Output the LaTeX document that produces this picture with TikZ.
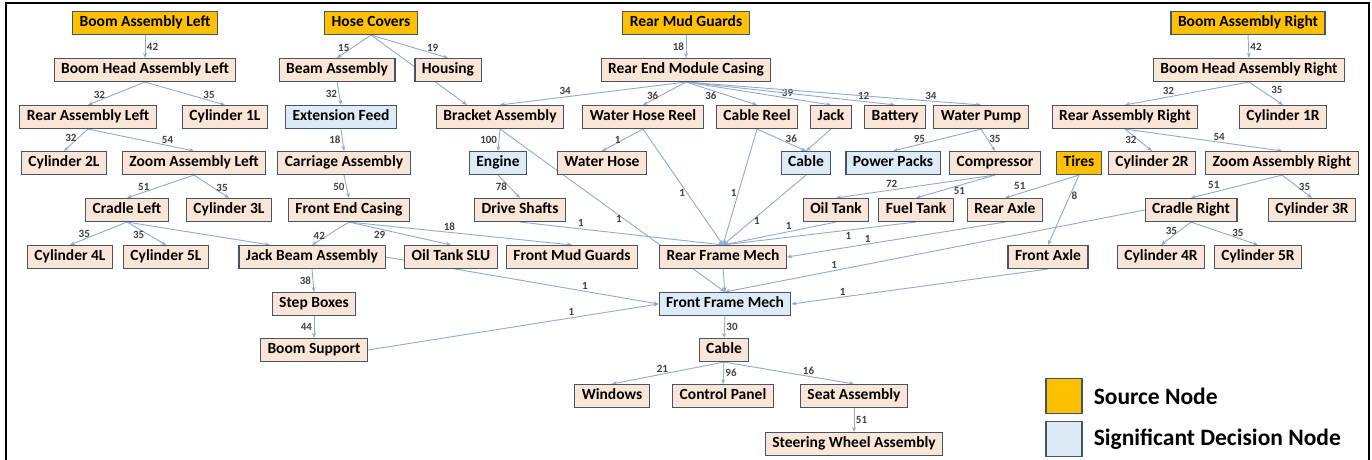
\documentclass[tikz,border=0pt]{standalone}
\usepackage{fontspec}
\setmainfont{Carlito}
\usepackage{tikz}
\usetikzlibrary{arrows.meta,backgrounds,positioning}

\definecolor{peach}{HTML}{FBE5D6}
\definecolor{gold}{HTML}{FFC000}
\definecolor{paleblue}{HTML}{DEEBF7}
\definecolor{rim}{HTML}{44546A}
\definecolor{edgeblue}{HTML}{8FAACC}

\tikzset{
  partbox/.style={draw=rim, fill=peach, line width=1.1pt, minimum height=23pt,
    inner xsep=7pt, inner ysep=0pt, text height=11pt, text depth=3.5pt,
    font=\fontsize{15.5}{17}\selectfont\bfseries},
  srcbox/.style={partbox, fill=gold},
  sigbox/.style={partbox, fill=paleblue},
  link/.style={draw=edgeblue, line width=0.9pt, -{Stealth[length=5pt,width=4pt]}},
  num/.style={font=\fontsize{11}{12}\selectfont\bfseries, text=black!75, inner sep=1.5pt},
  keytext/.style={font=\fontsize{23.5}{26}\selectfont\bfseries, inner sep=0pt}
}

\begin{document}
\begin{tikzpicture}[x=1pt, y=-1pt]

\useasboundingbox (0,0) rectangle (1372,460);
\draw[line width=2.2pt] (6,460) -- (6,3) -- (1369,3) -- (1369,460);

% row 0
\node[srcbox] (bal) at (145,23) {Boom Assembly Left};
\node[srcbox] (hc) at (371,23) {Hose Covers};
\node[srcbox] (rmg) at (686,23) {Rear Mud Guards};
\node[srcbox] (bar) at (1248,23) {Boom Assembly Right};

% row 1
\node[partbox] (bhal) at (145,70) {Boom Head Assembly Left};
\node[partbox] (beam) at (337,70) {Beam Assembly};
\node[partbox] (hous) at (448,70) {Housing};
\node[partbox] (remc) at (686,70) {Rear End Module Casing};
\node[partbox] (bhar) at (1249,70) {Boom Head Assembly Right};

% row 2
\node[partbox] (ral) at (88,117) {Rear Assembly Left};
\node[partbox] (cyl1l) at (225,117) {Cylinder 1L};
\node[sigbox] (ef) at (341,117) {Extension Feed};
\node[partbox] (brk) at (500,117) {Bracket Assembly};
\node[partbox] (whr) at (643,117) {Water Hose Reel};
\node[partbox] (creel) at (757,117) {Cable Reel};
\node[partbox] (jack) at (831,117) {Jack};
\node[partbox] (bat) at (895,117) {Battery};
\node[partbox] (wp) at (981,117) {Water Pump};
\node[partbox] (rar) at (1125,117) {Rear Assembly Right};
\node[partbox] (cyl1r) at (1283,117) {Cylinder 1R};

% row 3
\node[partbox] (cyl2l) at (64,163) {Cylinder 2L};
\node[partbox] (zal) at (194,163) {Zoom Assembly Left};
\node[partbox] (ca) at (344,163) {Carriage Assembly};
\node[sigbox] (eng) at (498,163) {Engine};
\node[partbox] (wh) at (602,163) {Water Hose};
\node[sigbox] (cab) at (806,163) {Cable};
\node[sigbox] (pp) at (893,163) {Power Packs};
\node[partbox] (comp) at (995,163) {Compressor};
\node[srcbox] (tires) at (1079,163) {Tires};
\node[partbox] (cyl2r) at (1152,163) {Cylinder 2R};
\node[partbox] (zar) at (1282,163) {Zoom Assembly Right};

% row 4
\node[partbox] (crl) at (127,210) {Cradle Left};
\node[partbox] (cyl3l) at (229,210) {Cylinder 3L};
\node[partbox] (fec) at (349,210) {Front End Casing};
\node[partbox] (ds) at (520,210) {Drive Shafts};
\node[partbox] (ot) at (836,210) {Oil Tank};
\node[partbox] (ft) at (916,210) {Fuel Tank};
\node[partbox] (ra) at (1005,210) {Rear Axle};
\node[partbox] (crr) at (1191,210) {Cradle Right};
\node[partbox] (cyl3r) at (1312,210) {Cylinder 3R};

% row 5
\node[partbox] (cyl4l) at (70,257) {Cylinder 4L};
\node[partbox] (cyl5l) at (166,257) {Cylinder 5L};
\node[partbox] (jba) at (312,257) {Jack Beam Assembly};
\node[partbox] (otslu) at (451,257) {Oil Tank SLU};
\node[partbox] (fmg) at (572,257) {Front Mud Guards};
\node[partbox] (rfm) at (723,257) {Rear Frame Mech};
\node[partbox] (fa) at (1048,257) {Front Axle};
\node[partbox] (cyl4r) at (1161,257) {Cylinder 4R};
\node[partbox] (cyl5r) at (1258,257) {Cylinder 5R};

% lower rows
\node[partbox] (sb) at (314,304) {Step Boxes};
\node[sigbox] (ffm) at (725,304) {Front Frame Mech};
\node[partbox] (bs) at (314,350) {Boom Support};
\node[partbox] (cbl) at (724,350) {Cable};
\node[partbox] (win) at (612,396) {Windows};
\node[partbox] (cp) at (723,396) {Control Panel};
\node[partbox] (seat) at (854,396) {Seat Assembly};
\node[partbox] (swa) at (854,444) {Steering Wheel Assembly};

% legend
\node[srcbox, minimum width=36pt, minimum height=35pt] (keysrc) at (1064,396) {};
\node[sigbox, minimum width=36pt, minimum height=35pt] (keysig) at (1064,439) {};
\node[keytext, right=11pt of keysrc] (keysrctxt) {Source Node};
\node[keytext, right=11pt of keysig] (keysigtxt) {Significant Decision Node};

\begin{scope}[on background layer]
% left boom
\draw[link] (bal.south) -- node[num,right] {42} (bhal.north);
\draw[link] (bhal.south) -- node[num,above,pos=.8] {32} (ral.north);
\draw[link] (bhal.south) -- node[num,above,pos=.8] {35} (cyl1l.north);
\draw[link] (ral.south) -- node[num,left,pos=.4] {32} (cyl2l.north);
\draw[link] (ral.south) -- node[num,above,pos=.75] {54} (zal.north);
\draw[link] (zal.south) -- node[num,above,pos=.75] {51} (crl.north);
\draw[link] (zal.south) -- node[num,above,pos=.8] {35} (cyl3l.north);
\draw[link] (crl.south) -- node[num,above,pos=.75] {35} (cyl4l.north);
\draw[link] (crl.south) -- node[num,below,pos=.3] {35} (cyl5l.north);
\draw[link] (crl.south) -- ([xshift=-42pt]jba.north);

% hose covers
\draw[link] (hc.south) -- node[num,above,pos=.8] {15} (beam.north);
\draw[link] (hc.south) -- node[num,above,pos=.8] {19} (hous.north);
\draw[link] (hc.south) -- ([xshift=-33pt]brk.north);
\draw[link] (beam.south) -- node[num,left] {32} (ef.north);
\draw[link] (ef.south) -- node[num,left] {18} (ca.north);
\draw[link] (ca.south) -- node[num,left] {50} (fec.north);
\draw[link] (fec.south) -- node[num,left,pos=.6] {42} (jba.north);
\draw[link] (fec.south) -- node[num,below,pos=.3] {29} (otslu.north);
\draw[link] (fec.south) -- node[num,above,pos=.45] {18} (fmg.north);
\draw[link] (jba.south) -- node[num,left] {38} (sb.north);
\draw[link] (sb.south) -- node[num,left] {44} (bs.north);
\draw[link] (jba.east) -- node[num,above,pos=.73] {1} (ffm.west);
\draw[link] (bs.east) -- node[num,above,pos=.7] {1} (ffm.west);

% rear mud guards
\draw[link] (rmg.south) -- node[num,left] {18} (remc.north);
\draw[link] (remc.south) -- node[num,above,pos=.65] {34} (brk.north);
\draw[link] (remc.south) -- node[num,left,pos=.6] {36} (whr.north);
\draw[link] (remc.south) -- node[num,below,pos=.35] {36} (creel.north);
\draw[link] (remc.south) -- node[num,above,pos=.7] {39} (jack.north);
\draw[link] (remc.south) -- node[num,above,pos=.85] {12} (bat.north);
\draw[link] (remc.south) -- node[num,above,pos=.83] {34} (wp.north);

% bracket and reels
\draw[link] (brk.south) -- node[num,left] {100} (eng.north);
\draw[link] (eng.south) -- node[num,left] {78} (ds.north);
\draw[link] (brk.south) -- node[num,left,pos=.55] {1} (ffm.north);
\draw[link] (ds.south) -- node[num,above,pos=.3] {1} (rfm.north);
\draw[link] (whr.south) -- node[num,left,pos=.5] {1} (wh.north);
\draw[link] (whr.south) -- node[num,left,pos=.55] {1} (rfm.north);
\draw[link] (creel.south) -- node[num,above,pos=.7] {36} (cab.north);
\draw[link] (jack.south) -- (cab.north);
\draw[link] (creel.south) -- node[num,left,pos=.55] {1} (rfm.north);
\draw[link] (cab.south) -- node[num,right,pos=.65] {1} (rfm.north);

% pump, compressor, tires
\draw[link] (wp.south) -- node[num,above,pos=.7] {95} (pp.north);
\draw[link] (wp.south) -- node[num,right,pos=.45] {35} (comp.north);
\draw[link] (comp.south) -- node[num,above,pos=.65] {72} (ot.north);
\draw[link] (comp.south) -- node[num,below,pos=.45] {51} (ft.north);
\draw[link] (tires.south) -- node[num,above=2pt,pos=.8] {51} (ra.north);
\draw[link] (tires.south) -- node[num,right,pos=.3] {8} (fa.north);
\draw[link] (ot.south) -- node[num,above,pos=.42] {1} (rfm.north);
\draw[link] (ft.south) -- node[num,below,pos=.35] {1} (rfm.north);
\draw[link] (ra.south) -- node[num,above,pos=.63] {1} (rfm.east);
\draw[link] (crr.west) -- node[num,above,pos=.74] {1} (ffm.north);
\draw[link] (fa.south) -- node[num,above,pos=.8] {1} (ffm.east);

% frame and cab
\draw[link] (rfm.south) -- (ffm.north);
\draw[link] (ffm.south) -- node[num,right] {30} (cbl.north);
\draw[link] (cbl.south) -- node[num,above,pos=.55] {21} (win.north);
\draw[link] (cbl.south) -- node[num,right] {96} (cp.north);
\draw[link] (cbl.south) -- node[num,above,pos=.65] {16} (seat.north);
\draw[link] (seat.south) -- node[num,right] {51} (swa.north);

% right boom
\draw[link] (bar.south) -- node[num,right] {42} (bhar.north);
\draw[link] (bhar.south) -- node[num,above,pos=.65] {32} (rar.north);
\draw[link] (bhar.south) -- node[num,above right,pos=.6] {35} (cyl1r.north);
\draw[link] (rar.south) -- node[num,left,pos=.5] {32} (cyl2r.north);
\draw[link] (rar.south) -- node[num,above,pos=.6] {54} (zar.north);
\draw[link] (zar.south) -- node[num,above=2pt,pos=.75] {51} (crr.north);
\draw[link] (zar.south) -- node[num,right,pos=.5] {35} (cyl3r.north);
\draw[link] (crr.south) -- node[num,left,pos=.4] {35} (cyl4r.north);
\draw[link] (crr.south) -- node[num,above,pos=.7] {35} (cyl5r.north);
\end{scope}

\end{tikzpicture}
\end{document}
